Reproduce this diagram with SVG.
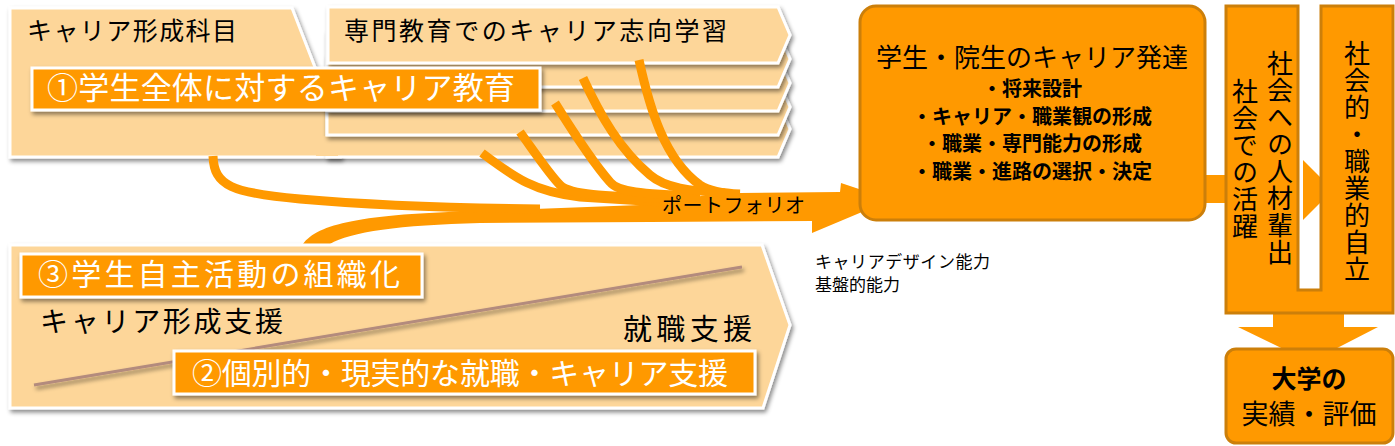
<svg xmlns="http://www.w3.org/2000/svg" width="1395" height="446" viewBox="0 0 1395 446">
<defs>
<style>
.lt{fill:#FDD699;stroke:#FFFFFF;stroke-width:3;stroke-linejoin:miter}
.lbl{fill:#FF9900;stroke:#FFFFFF;stroke-width:3}
.ob{fill:#FF9900;stroke:#CC7F0A;stroke-width:3}
.of{fill:#FF9900}
.cv{fill:none;stroke:#FF9900;stroke-width:9}
text{font-family:"Noto Sans CJK JP","Noto Sans",sans-serif}
.blk{fill:#000000}
.wht{fill:#FFFFFF}
.vt{writing-mode:vertical-rl;fill:#000000;font-size:26px;letter-spacing:1px}
</style>
<filter id="sh" x="-5%" y="-10%" width="112%" height="135%">
<feDropShadow dx="2" dy="3" stdDeviation="2" flood-color="#000000" flood-opacity="0.45"/>
</filter>
</defs>

<g id="career-courses">
<polygon class="lt" filter="url(#sh)" points="10,8 292,8 318,75 340,75 340,157 10,157"/>
<text class="blk" x="27" y="40" font-size="25" textLength="210">キャリア形成科目</text>
</g>

<g id="specialized-stack">
<polygon class="lt" filter="url(#sh)" points="327,102 778,102 790,129 778,157 327,157"/>
<rect x="316" y="136" width="22" height="20" fill="#FDD699"/>
<polygon class="lt" filter="url(#sh)" points="327,80 778,80 790,107 778,135 327,135"/>
<polygon class="lt" filter="url(#sh)" points="327,56 778,56 790,83 778,111 327,111"/>
<polygon class="lt" filter="url(#sh)" points="327,32 778,32 790,59 778,87 327,87"/>
<polygon class="lt" filter="url(#sh)" points="328,7 778,7 790,35 778,63 328,63"/>
<text class="blk" x="344" y="40" font-size="25" textLength="383">専門教育でのキャリア志向学習</text>
</g>

<g id="label-1">
<rect class="lbl" filter="url(#sh)" x="32" y="68" width="508" height="42"/>
<text class="wht" x="47" y="99" font-size="31" textLength="468">①学生全体に対するキャリア教育</text>
</g>

<g id="connectors">
<path class="of" d="M303,244 C318,224 360,214 480,211 L640,205 C680,200 700,194 740,193 L840,192 L841,183 L862,190 L862,212 L812,233 L812,221 L650,222 L480,223 C400,225 350,232 330,244 Z"/>
<path class="cv" d="M213,156 C214,186 232,193 300,199 C380,206 450,208 540,209"/>
<path class="cv" d="M482,153 C515,178 535,192 580,197 L660,202"/>
<path class="cv" d="M520,132 C540,160 550,175 560,185 C570,195 600,196 680,199"/>
<path class="cv" d="M555,103 C575,135 595,165 610,182 C618,192 640,194 700,196"/>
<path class="cv" d="M583,78 C600,115 620,150 650,175 C665,188 690,191 725,193"/>
<path class="cv" d="M639,60 C650,110 665,160 700,185 Q712,193 740,194"/>
<text class="blk" x="662" y="213" font-size="20" textLength="143">ポートフォリオ</text>
<rect class="of" x="1204" y="175" width="23" height="28"/>
<polygon class="of" points="1303,160 1322,179 1322,201 1303,220"/>
<polygon class="of" points="1273,312 1344,312 1344,327 1378,327 1310,362 1238,327 1273,327"/>
</g>

<g id="support">
<polygon class="lt" filter="url(#sh)" points="10,245 762,245 790,325 763,408 10,408"/>
<line x1="34" y1="385" x2="742" y2="267" stroke="#B38B7D" stroke-width="3" filter="url(#sh)"/>
<text class="blk" x="40" y="332" font-size="28" textLength="243">キャリア形成支援</text>
<text class="blk" x="623" y="340" font-size="29" textLength="129">就職支援</text>
</g>

<g id="label-3">
<rect class="lbl" filter="url(#sh)" x="21" y="254" width="401" height="43"/>
<text class="wht" x="38" y="285" font-size="30" textLength="362">③学生自主活動の組織化</text>
</g>

<g id="label-2">
<rect class="lbl" filter="url(#sh)" x="174" y="351" width="581" height="43"/>
<text class="wht" x="192" y="384" font-size="30" textLength="536">②個別的・現実的な就職・キャリア支援</text>
</g>

<g id="abilities">
<text class="blk" x="815" y="268" font-size="17" textLength="175">キャリアデザイン能力</text>
<text class="blk" x="815" y="291" font-size="17">基盤的能力</text>
</g>

<g id="career-development">
<rect class="ob" x="860" y="6" width="345" height="214" rx="16" ry="16"/>
<text class="blk" x="1032" y="67" font-size="26" text-anchor="middle">学生・院生のキャリア発達</text>
<text class="blk" x="1032" y="96" font-size="20" font-weight="bold" text-anchor="middle">・将来設計</text>
<text class="blk" x="1032" y="124" font-size="20" font-weight="bold" text-anchor="middle">・キャリア・職業観の形成</text>
<text class="blk" x="1032" y="151" font-size="20" font-weight="bold" text-anchor="middle">・職業・専門能力の形成</text>
<text class="blk" x="1032" y="179" font-size="20" font-weight="bold" text-anchor="middle">・職業・進路の選択・決定</text>
</g>

<g id="society">
<polygon class="ob" points="1226,6 1298,6 1298,290 1321,290 1321,6 1393,6 1393,313 1226,313"/>
<text class="vt" x="1245" y="78">社会での活躍</text>
<text class="vt" x="1280" y="50">社会への人材輩出</text>
<text class="vt" x="1357" y="40">社会的・職業的自立</text>
</g>

<g id="university">
<rect class="ob" x="1226" y="349" width="167" height="94" rx="10" ry="10"/>
<text class="blk" x="1309" y="388" font-size="25" font-weight="bold" text-anchor="middle">大学の</text>
<text class="blk" x="1309" y="424" font-size="27" text-anchor="middle">実績・評価</text>
</g>
</svg>
